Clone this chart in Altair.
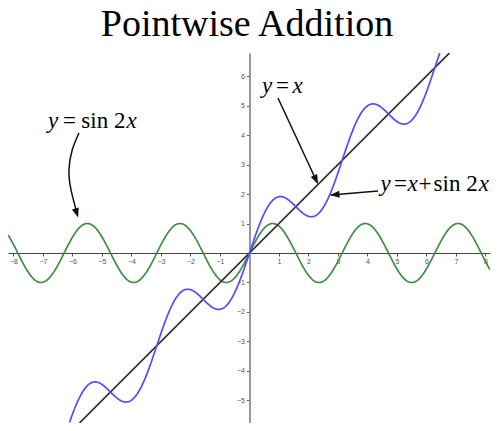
import numpy as np
import pandas as pd
import altair as alt

# ---------------- data ----------------
# the three plotted functions (as labelled in the picture), sampled along x
x_samples = np.round(np.arange(-8.40, 8.401, 0.01), 3)
curve_names = ["y = sin 2x", "y = x", "y = x + sin 2x"]
curve_colors = ["#3f8f3f", "#333333", "#4f4fff"]
y_sin = np.sin(2 * x_samples)
y_line = x_samples.copy()
y_sum = x_samples + np.sin(2 * x_samples)

x_ticks = [-8, -7, -6, -5, -4, -3, -2, -1, 1, 2, 3, 4, 5, 6, 7, 8]
y_ticks = [-6, -5, -4, -3, -2, -1, 1, 2, 3, 4, 5, 6]

title_text = "Pointwise Addition"

# label pieces (text, italic?, x, y) in data units
label_text = ["y", "=", "sin 2", "x",
              "y", "=", "x",
              "y", "=", "x", "+", "sin 2", "x"]
label_italic = [True, False, False, True,
                True, False, True,
                True, False, True, False, False, True]
label_x = [-6.83, -6.32, -5.70, -4.17,
           0.42, 0.90, 1.46,
           4.44, 4.90, 5.36, 5.73, 6.24, 7.77]
label_y = [4.24, 4.24, 4.24, 4.24,
           5.42, 5.42, 5.42,
           2.10, 2.10, 2.10, 2.10, 2.10, 2.10]

# arrows (shaft points) in data units
arrow_id = ["a", "a", "a", "a", "a", "b", "b", "c", "c"]
arrow_x = [-5.78, -6.01, -6.12, -6.05, -5.84, 0.966, 2.30, 4.356, 2.76]
arrow_y = [4.07, 3.49, 2.81, 2.14, 1.32, 5.254, 2.38, 2.102, 1.968]
head_x = [-5.81, 2.322, 2.729]
head_y = [1.20, 2.339, 1.966]
head_angle = [163, 155, 265]

# ---------------- view ----------------
X_DOMAIN = [-8.186, 8.153]
Y_DOMAIN = [-5.763, 6.78]
W, H = 482, 370
x_off = -W * (0 - X_DOMAIN[0]) / (X_DOMAIN[1] - X_DOMAIN[0])
y_off = -H * (0 - Y_DOMAIN[0]) / (Y_DOMAIN[1] - Y_DOMAIN[0])

curves = pd.DataFrame({
    "x": np.concatenate([x_samples] * 3),
    "y": np.concatenate([y_sin, y_line, y_sum]),
    "curve": np.repeat(curve_names, len(x_samples)),
})
curves = curves[(curves.x >= X_DOMAIN[0]) & (curves.x <= X_DOMAIN[1]) &
                (curves.y >= Y_DOMAIN[0]) & (curves.y <= Y_DOMAIN[1])]
labels = pd.DataFrame({"x": label_x, "y": label_y, "text": label_text, "italic": label_italic})
arrows = pd.DataFrame({"x": arrow_x, "y": arrow_y, "arrow": arrow_id, "k": range(len(arrow_x))})
heads = pd.DataFrame({"x": head_x, "y": head_y, "ang": head_angle})
title_df = pd.DataFrame({"x": [-0.085], "y": [7.36], "text": [title_text]})

x_enc = alt.X("x:Q", scale=alt.Scale(domain=X_DOMAIN, nice=False, zero=False),
              axis=alt.Axis(orient="bottom", offset=y_off, values=x_ticks, grid=False, title=None,
                            domainColor="#444444", domainWidth=1, tickColor="#555555", tickSize=3,
                            tickWidth=1, labelFontSize=7, labelColor="#555555", labelPadding=1,
                            labelFont="Liberation Sans", labelOverlap=False, labelFlush=False))
y_enc = alt.Y("y:Q", scale=alt.Scale(domain=Y_DOMAIN, nice=False, zero=False),
              axis=alt.Axis(orient="left", offset=x_off, values=y_ticks, grid=False, title=None,
                            domainColor="#999999", domainWidth=2, tickColor="#555555", tickSize=3,
                            tickWidth=1, labelFontSize=7, labelColor="#555555", labelPadding=2,
                            labelFont="Liberation Sans", labelOverlap=False, labelFlush=False))

curve_layer = alt.Chart(curves).mark_line(clip=True, strokeWidth=1.7).encode(
    x=x_enc, y=y_enc,
    color=alt.Color("curve:N", scale=alt.Scale(domain=curve_names, range=curve_colors), legend=None),
)

text_it = alt.Chart(labels).transform_filter("datum.italic").mark_text(
    align="left", baseline="alphabetic", font="Liberation Serif", fontSize=23,
    fontStyle="italic", color="black").encode(x=x_enc, y=y_enc, text="text:N")
text_rm = alt.Chart(labels).transform_filter("!datum.italic").mark_text(
    align="left", baseline="alphabetic", font="Liberation Serif", fontSize=23,
    color="black").encode(x=x_enc, y=y_enc, text="text:N")

title_layer = alt.Chart(title_df).mark_text(
    align="center", baseline="alphabetic", font="Liberation Serif", fontSize=38,
    color="black", clip=False).encode(x=x_enc, y=y_enc, text="text:N")

arrow_layer = alt.Chart(arrows).mark_line(interpolate="natural", color="#111111", strokeWidth=1.5).encode(
    x=x_enc, y=y_enc, detail="arrow:N", order="k:Q")

head_layer = alt.Chart(heads).mark_point(
    shape="M0,0L-0.75,2L0.75,2Z", filled=True, size=90, color="#111111", opacity=1, strokeWidth=0
).encode(x=x_enc, y=y_enc, angle=alt.Angle("ang:Q", scale=None))

chart = alt.layer(curve_layer, arrow_layer, head_layer, text_it, text_rm, title_layer).properties(
    width=W, height=H,
    autosize=alt.AutoSizeParams(type="none"),
    padding={"left": 0, "top": 45, "right": 3, "bottom": 0},
).configure_view(strokeWidth=0)

chart.save("out.html", embed_options={"renderer": "svg", "actions": False})
